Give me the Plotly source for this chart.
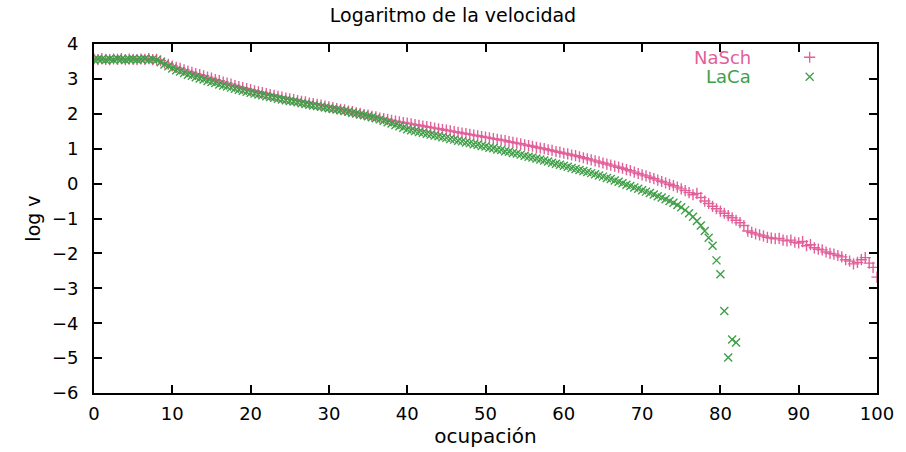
import numpy as np
import plotly.graph_objects as go

# occupancy grid (x samples, step 0.5)
ocupacion = [round(v, 1) for v in np.arange(0, 100.01, 0.5)]

nasch_logv = [
    3.57, 3.55, 3.58, 3.56, 3.55, 3.57, 3.56, 3.58, 3.55, 3.57, 3.56, 3.55, 3.57, 3.56, 3.58, 3.55, 3.56, 3.52, 3.46, 3.42,
    3.37, 3.33, 3.30, 3.26, 3.22, 3.19, 3.15, 3.12, 3.09, 3.05, 3.02, 2.98, 2.95, 2.91, 2.88, 2.85, 2.81, 2.78, 2.75, 2.72,
    2.69, 2.66, 2.63, 2.61, 2.58, 2.55, 2.53, 2.50, 2.48, 2.45, 2.43, 2.41, 2.38, 2.36, 2.34, 2.31, 2.29, 2.27, 2.25, 2.22,
    2.20, 2.18, 2.15, 2.13, 2.11, 2.08, 2.06, 2.03, 2.01, 1.98, 1.96, 1.93, 1.91, 1.88, 1.86, 1.84, 1.81, 1.79, 1.77, 1.75,
    1.73, 1.71, 1.69, 1.67, 1.65, 1.63, 1.61, 1.59, 1.57, 1.55, 1.53, 1.51, 1.49, 1.47, 1.45, 1.43, 1.41, 1.39, 1.37, 1.35,
    1.33, 1.31, 1.29, 1.27, 1.25, 1.23, 1.20, 1.18, 1.16, 1.14, 1.11, 1.09, 1.07, 1.04, 1.02, 1.00, 0.97, 0.95, 0.92, 0.90,
    0.87, 0.85, 0.82, 0.80, 0.77, 0.74, 0.71, 0.68, 0.65, 0.62, 0.59, 0.56, 0.53, 0.50, 0.47, 0.44, 0.40, 0.37, 0.33, 0.29,
    0.25, 0.22, 0.18, 0.14, 0.10, 0.06, 0.02, -0.02, -0.06, -0.10, -0.15, -0.20, -0.26, -0.32, -0.28, -0.40, -0.50, -0.57, -0.65, -0.72,
    -0.79, -0.85, -0.92, -0.98, -1.05, -1.12, -1.20, -1.36, -1.40, -1.44, -1.47, -1.50, -1.54, -1.56, -1.58, -1.57, -1.62, -1.64, -1.62, -1.68,
    -1.70, -1.66, -1.78, -1.75, -1.84, -1.88, -1.90, -1.96, -2.00, -2.02, -2.06, -2.10, -2.18, -2.22, -2.30, -2.26, -2.18, -2.12, -2.28, -2.40,
    -2.68,
]

laca_logv = [
    3.55, 3.57, 3.56, 3.54, 3.57, 3.55, 3.58, 3.56, 3.54, 3.56, 3.57, 3.55, 3.56, 3.58, 3.55, 3.56, 3.54, 3.48, 3.41, 3.36,
    3.30, 3.25, 3.21, 3.17, 3.12, 3.09, 3.05, 3.01, 2.98, 2.94, 2.91, 2.88, 2.84, 2.81, 2.78, 2.75, 2.72, 2.69, 2.66, 2.63,
    2.60, 2.58, 2.55, 2.53, 2.50, 2.48, 2.46, 2.43, 2.41, 2.39, 2.37, 2.35, 2.33, 2.30, 2.28, 2.26, 2.24, 2.22, 2.20, 2.18,
    2.16, 2.14, 2.12, 2.10, 2.08, 2.06, 2.03, 2.01, 1.98, 1.96, 1.93, 1.90, 1.87, 1.84, 1.80, 1.76, 1.72, 1.68, 1.64, 1.60,
    1.56, 1.53, 1.51, 1.48, 1.46, 1.43, 1.41, 1.38, 1.36, 1.33, 1.31, 1.28, 1.26, 1.23, 1.21, 1.18, 1.16, 1.13, 1.11, 1.08,
    1.06, 1.03, 1.01, 0.98, 0.96, 0.93, 0.91, 0.88, 0.86, 0.83, 0.80, 0.77, 0.75, 0.72, 0.69, 0.66, 0.63, 0.60, 0.57, 0.54,
    0.51, 0.48, 0.45, 0.42, 0.39, 0.36, 0.33, 0.30, 0.27, 0.23, 0.20, 0.16, 0.13, 0.09, 0.05, 0.01, -0.03, -0.07, -0.11, -0.15,
    -0.19, -0.23, -0.27, -0.31, -0.36, -0.40, -0.45, -0.50, -0.55, -0.61, -0.68, -0.76, -0.85, -0.95, -1.07, -1.20, -1.36, -1.55, -1.78, -2.20,
    -2.60, -3.65, -4.98, -4.47, -4.55,
]
laca_logv = laca_logv + [None] * (len(ocupacion) - len(laca_logv))

series_names = ["NaSch", "LaCa"]
x_ticks = [0, 10, 20, 30, 40, 50, 60, 70, 80, 90, 100]
y_ticks = [-6, -5, -4, -3, -2, -1, 0, 1, 2, 3, 4]

PINK = "#e2609a"
GREEN = "#3f9f47"
FONT = "DejaVu Sans"

fig = go.Figure()
fig.add_trace(go.Scatter(
    x=ocupacion, y=nasch_logv, mode="markers", name=series_names[0],
    marker=dict(symbol="cross-thin", size=8, color=PINK, line=dict(color=PINK, width=1.4)),
))
fig.add_trace(go.Scatter(
    x=ocupacion, y=laca_logv, mode="markers", name=series_names[1],
    marker=dict(symbol="x-thin", size=8, color=GREEN, line=dict(color=GREEN, width=1.4)),
))

# legend keys (on an overlay axis in 0..1 coordinates)
fig.add_trace(go.Scatter(
    x=[0.914], y=[0.962], mode="markers", xaxis="x2", yaxis="y2", showlegend=False, hoverinfo="skip",
    marker=dict(symbol="cross-thin", size=8, color=PINK, line=dict(color=PINK, width=1.3)),
))
fig.add_trace(go.Scatter(
    x=[0.914], y=[0.906], mode="markers", xaxis="x2", yaxis="y2", showlegend=False, hoverinfo="skip",
    marker=dict(symbol="x-thin", size=8, color=GREEN, line=dict(color=GREEN, width=1.3)),
))

axis_common = dict(
    showline=True, linecolor="black", linewidth=1.8, mirror="ticks",
    ticks="inside", ticklen=8, tickwidth=1.8, tickcolor="black",
    showgrid=False, zeroline=False,
    tickfont=dict(family=FONT, size=18, color="black"),
)

fig.update_layout(
    width=906, height=452,
    margin=dict(l=94, r=24, t=44, b=55),
    paper_bgcolor="white", plot_bgcolor="white",
    showlegend=False,
    title=dict(text="Logaritmo de la velocidad", x=0.5, xanchor="center", y=0.967, yanchor="middle",
               font=dict(family=FONT, size=19, color="black")),
    xaxis=dict(range=[0, 100], tickvals=x_ticks, ticklabelstandoff=3,
               title=dict(text="ocupación", standoff=2,
                          font=dict(family=FONT, size=20, color="black")), **axis_common),
    yaxis=dict(range=[-6, 4], tickvals=y_ticks, ticklabelstandoff=10,
               title=dict(text="log v", standoff=6,
                          font=dict(family=FONT, size=19, color="black")), **axis_common),
    xaxis2=dict(range=[0, 1], overlaying="x", visible=False, fixedrange=True),
    yaxis2=dict(range=[0, 1], overlaying="y", visible=False, fixedrange=True),
    annotations=[
        dict(text=series_names[0], xref="paper", yref="paper", x=0.842, y=0.962, xanchor="right", yanchor="middle",
             showarrow=False, font=dict(family=FONT, size=18, color=PINK)),
        dict(text=series_names[1], xref="paper", yref="paper", x=0.842, y=0.906, xanchor="right", yanchor="middle",
             showarrow=False, font=dict(family=FONT, size=18, color=GREEN)),
    ],
)

fig.write_html("out.html")
